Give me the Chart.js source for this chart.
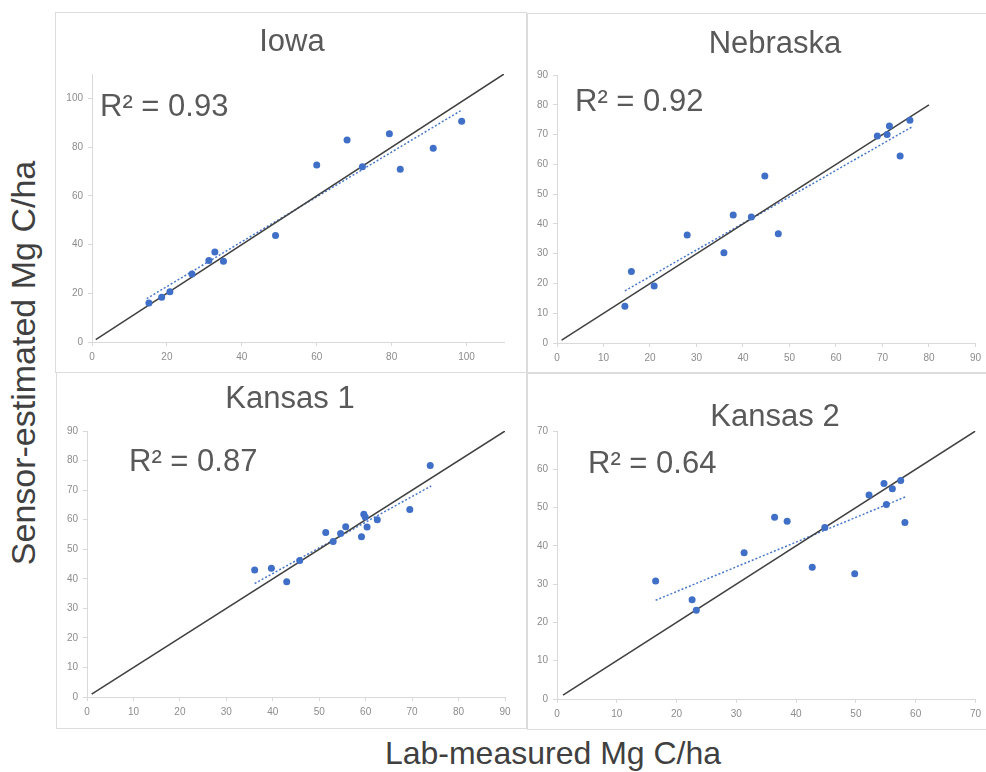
<!DOCTYPE html>
<html>
<head>
<meta charset="utf-8">
<script src="https://cdn.jsdelivr.net/npm/chart.js@4.4.1/dist/chart.umd.min.js"></script>
<style>
  body { margin:0; background:#fff; width:986px; height:772px; overflow:hidden; position:relative;
         font-family:"Liberation Sans", Arial, sans-serif; }
  .box { position:absolute; border:1px solid #dcdcdc; box-sizing:border-box; }
  canvas { position:absolute; }
  .ttl { position:absolute; font-size:31px; line-height:31px; color:#595959; white-space:nowrap; transform:translateX(-50%); }
  .r2 { position:absolute; font-size:31px; line-height:31px; color:#595959; white-space:nowrap; }
  #ylab { position:absolute; left:23px; top:363px; font-size:34px; line-height:34px; color:#404040; white-space:nowrap;
          transform:translate(-50%,-50%) rotate(-90deg); }
  #xlab { position:absolute; left:553px; top:737px; font-size:32px; line-height:32px; color:#404040; white-space:nowrap;
          transform:translateX(-50%); }
</style>
</head>
<body>

<div class="box" style="left:55px;top:12px;width:472px;height:361px"></div>
<div class="box" style="left:527px;top:13px;width:470px;height:360px"></div>
<div class="box" style="left:56px;top:372px;width:471px;height:357px"></div>
<div class="box" style="left:527px;top:373px;width:470px;height:357px"></div>

<canvas id="iowa" width="470" height="358" style="left:56px;top:13px"></canvas>
<canvas id="nebraska" width="458" height="358" style="left:528px;top:14px"></canvas>
<canvas id="kansas1" width="470" height="355" style="left:57px;top:373px"></canvas>
<canvas id="kansas2" width="458" height="355" style="left:528px;top:374px"></canvas>

<div class="ttl" style="left:292px;top:25px">Iowa</div>
<div class="ttl" style="left:775px;top:27px">Nebraska</div>
<div class="ttl" style="left:290px;top:382px">Kansas 1</div>
<div class="ttl" style="left:775px;top:400px">Kansas 2</div>

<div class="r2" style="left:100px;top:90px">R² = 0.93</div>
<div class="r2" style="left:575px;top:85px">R² = 0.92</div>
<div class="r2" style="left:129px;top:445px">R² = 0.87</div>
<div class="r2" style="left:588px;top:447px">R² = 0.64</div>

<div id="ylab">Sensor-estimated Mg C/ha</div>
<div id="xlab">Lab-measured Mg C/ha</div>

<script>
// Iowa
const iowaX = [15.2, 18.6, 20.8, 26.7, 31.2, 32.8, 35.1, 49.0, 60.0, 68.1, 72.2, 79.4, 82.3, 91.1, 98.7];
const iowaY = [16.0, 18.4, 20.6, 27.9, 33.5, 36.9, 33.1, 43.7, 72.7, 82.9, 71.9, 85.5, 70.9, 79.5, 90.6];
const iowaTrendX = [14.6, 98.4];
const iowaTrendY = [17.8, 94.9];
const iowaTicks = [0, 20, 40, 60, 80, 100];
const iowaMax = 110;

// Nebraska
const nebX = [14.6, 16.0, 20.9, 28.0, 35.9, 37.9, 41.8, 44.7, 47.6, 68.9, 71.0, 71.5, 73.8, 75.9];
const nebY = [12.3, 24.0, 19.1, 36.3, 30.3, 43.0, 42.3, 56.1, 36.7, 69.5, 70.0, 72.9, 62.8, 74.8];
const nebTrendX = [14.6, 76.4];
const nebTrendY = [17.5, 72.6];
const nebTicks = [0, 10, 20, 30, 40, 50, 60, 70, 80, 90];
const nebMax = 90;
const nebLineEnd = 80;

// Kansas 1
const ks1X = [36.1, 39.7, 43.0, 45.8, 51.4, 53.0, 54.6, 55.7, 59.1, 59.6, 59.9, 60.3, 62.5, 69.5, 73.9];
const ks1Y = [43.0, 43.6, 39.0, 46.2, 55.7, 52.6, 55.3, 57.6, 54.2, 61.8, 60.9, 57.5, 60.0, 63.4, 78.3];
const ks1TrendX = [36.1, 74.1];
const ks1TrendY = [38.4, 71.4];
const ks1Ticks = [0, 10, 20, 30, 40, 50, 60, 70, 80, 90];
const ks1Max = 90;

// Kansas 2
const ks2X = [16.5, 22.6, 23.3, 31.3, 36.4, 38.5, 42.7, 44.8, 49.8, 52.2, 54.7, 55.1, 56.1, 57.5, 58.2];
const ks2Y = [30.8, 25.9, 23.2, 38.2, 47.5, 46.4, 34.4, 44.8, 32.7, 53.3, 56.3, 50.8, 54.9, 57.1, 46.1];
const ks2TrendX = [16.5, 58.3];
const ks2TrendY = [25.8, 52.8];
const ks2Ticks = [0, 10, 20, 30, 40, 50, 60, 70];
const ks2Max = 70;

function toPts(xs, ys) {
    return xs.map(function(x, i) { return { x: x, y: ys[i] }; });
}

// one panel = points + 1:1 line + dotted trend line
function drawPanel(id, xs, ys, tx, ty, ticks, max, lineEnd, pad) {
    const ctx = document.getElementById(id).getContext('2d');
    const axis = function(w, h) {
        return {
            type: 'linear',
            min: 0,
            max: max,
            afterBuildTicks: function(scale) {
                scale.ticks = ticks.map(function(v) { return { value: v }; });
            },
            afterFit: function(scale) {
                if (w) scale.width = w;
                if (h) scale.height = h;
            },
            grid: { drawOnChartArea: false, drawTicks: true, tickLength: 4, color: '#d9d9d9' },
            border: { color: '#d9d9d9', width: 1 },
            ticks: { color: '#8c8c8c', font: { size: 10, family: 'Liberation Sans' }, padding: 5 }
        };
    };
    return new Chart(ctx, {
        type: 'scatter',
        data: {
            datasets: [{
                data: toPts(xs, ys),
                backgroundColor: '#3f6fc6',
                borderWidth: 0,
                pointRadius: 3.5
            }, {
                data: [{ x: 1, y: 1 }, { x: lineEnd, y: lineEnd }],
                showLine: true,
                borderColor: '#404040',
                borderWidth: 1.5,
                pointRadius: 0
            }, {
                data: toPts(tx, ty),
                showLine: true,
                borderColor: '#4a78c9',
                borderWidth: 1.5,
                borderDash: [2, 2],
                pointRadius: 0
            }]
        },
        options: {
            responsive: false,
            animation: false,
            layout: { padding: pad },
            plugins: { legend: { display: false }, tooltip: { enabled: false } },
            scales: {
                x: axis(0, 20),
                y: axis(pad.yw, 0)
            }
        }
    });
}

drawPanel('iowa', iowaX, iowaY, iowaTrendX, iowaTrendY, iowaTicks, iowaMax, 110,
    { left: 0, right: 22, top: 61, bottom: 9, yw: 36 });
drawPanel('nebraska', nebX, nebY, nebTrendX, nebTrendY, nebTicks, nebMax, nebLineEnd,
    { left: 0, right: 9, top: 61, bottom: 9, yw: 29 });
drawPanel('kansas1', ks1X, ks1Y, ks1TrendX, ks1TrendY, ks1Ticks, ks1Max, 90,
    { left: 0, right: 22, top: 58, bottom: 11, yw: 30 });
drawPanel('kansas2', ks2X, ks2Y, ks2TrendX, ks2TrendY, ks2Ticks, ks2Max, 70,
    { left: 0, right: 9, top: 57, bottom: 10, yw: 29 });
</script>
</body>
</html>
